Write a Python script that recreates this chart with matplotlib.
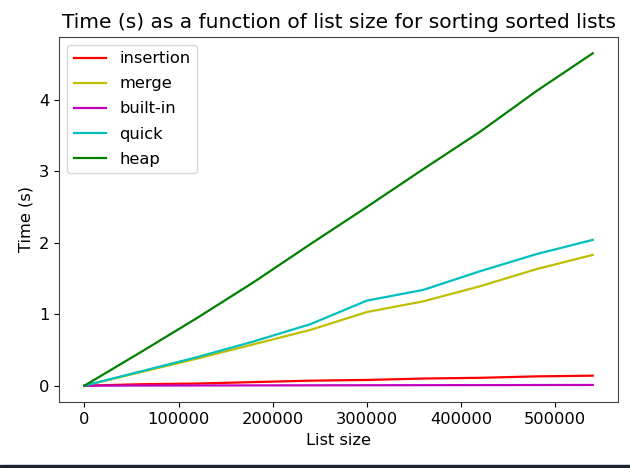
import matplotlib
matplotlib.use("Agg")
import matplotlib.pyplot as plt
from matplotlib.patches import Rectangle

list_sizes = [0, 60000, 120000, 180000, 240000, 300000, 360000, 420000, 480000, 540000]
insertion = [0.0, 0.02, 0.03, 0.05, 0.07, 0.08, 0.10, 0.11, 0.13, 0.14]
merge = [0.0, 0.19, 0.38, 0.58, 0.78, 1.03, 1.18, 1.39, 1.63, 1.83]
builtin = [0.0, 0.002, 0.003, 0.004, 0.005, 0.006, 0.007, 0.008, 0.009, 0.01]
quick = [0.0, 0.20, 0.40, 0.62, 0.86, 1.19, 1.34, 1.60, 1.84, 2.04]
heap = [0.0, 0.47, 0.95, 1.45, 1.98, 2.50, 3.03, 3.55, 4.12, 4.65]

series_names = ["insertion", "merge", "built-in", "quick", "heap"]
series_values = [insertion, merge, builtin, quick, heap]
series_colors = ["r", "y", "m", "c", "g"]

fig = plt.figure(figsize=(6.3, 4.68), dpi=100)
ax = fig.add_axes([0.0937, 0.1404, 0.8875, 0.7812])

for name, vals, col in zip(series_names, series_values, series_colors):
    ax.plot(list_sizes, vals, color=col, label=name, linewidth=1.6)

ax.set_title("Time (s) as a function of list size for sorting sorted lists", fontsize=14.5)
ax.set_xlabel("List size", fontsize=11.7)
ax.set_ylabel("Time (s)", fontsize=11.7)
ax.tick_params(labelsize=11.7)
ax.legend(loc="upper left", fontsize=11.7, labelspacing=0.62)
for s in ax.spines.values():
    s.set_color("#444444")

fig.patches.append(Rectangle((0, 0), 1, 3 / 468, transform=fig.transFigure,
                             color="#1c2230", zorder=10))

fig.savefig("out.png", dpi=100)
